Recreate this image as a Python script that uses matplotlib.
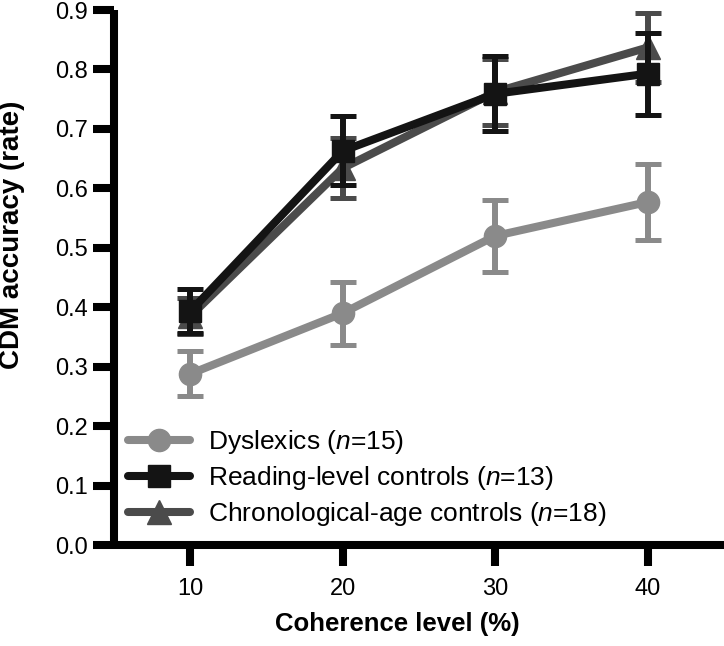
import matplotlib
matplotlib.use('Agg')
from matplotlib import pyplot as plt
from matplotlib.lines import Line2D

# data
coherence = [10, 20, 30, 40]

dyslexic_mean = [0.288, 0.390, 0.520, 0.577]
dyslexic_err = [0.038, 0.053, 0.060, 0.064]

reading_mean = [0.393, 0.663, 0.759, 0.793]
reading_err = [0.037, 0.058, 0.063, 0.069]

chrono_mean = [0.385, 0.634, 0.762, 0.837]
chrono_err = [0.030, 0.051, 0.055, 0.058]

labels = [r'Dyslexics ($\it{n}$=15)',
          r'Reading-level controls ($\it{n}$=13)',
          r'Chronological-age controls ($\it{n}$=18)']

y_ticks = [0.0, 0.1, 0.2, 0.3, 0.4, 0.5, 0.6, 0.7, 0.8, 0.9]


def main():
    """draw the chart"""
    plt.rcParams['font.family'] = ['Liberation Sans', 'DejaVu Sans']
    plt.rcParams['mathtext.fontset'] = 'custom'
    plt.rcParams['mathtext.rm'] = 'Liberation Sans'
    plt.rcParams['mathtext.it'] = 'Liberation Sans:italic'

    fig = plt.figure(figsize=(7.24, 6.46), dpi=100)
    ax = fig.add_axes([0.1575, 0.1563, 0.8425, 0.8282])

    # (means, errors, colour, marker, marker size, zorder)
    series = {
        labels[0]: (dyslexic_mean, dyslexic_err, '#8a8a8a', 'o', 16, 1),
        labels[2]: (chrono_mean, chrono_err, '#4b4b4b', '^', 17, 2),
        labels[1]: (reading_mean, reading_err, '#141414', 's', 15.5, 3),
    }
    for label, (mean, err, color, marker, ms, z) in series.items():
        ax.errorbar(coherence, mean, yerr=err, color=color, marker=marker,
                    markersize=ms, linewidth=5.8, elinewidth=4.3,
                    capsize=9.7, capthick=3.6, zorder=z, clip_on=False,
                    solid_capstyle='round')

    ax.set_xlim(5, 45)
    ax.set_ylim(0, 0.9)
    ax.set_xticks(coherence)
    ax.set_yticks(y_ticks)
    ax.set_yticklabels([f'{v:.1f}' for v in y_ticks])

    for side in ['top', 'right']:
        ax.spines[side].set_visible(False)
    for side in ['left', 'bottom']:
        ax.spines[side].set_linewidth(5.8)
        ax.spines[side].set_capstyle('butt')
    ax.tick_params(axis='both', which='major', length=15, width=5.8,
                   labelsize=17, colors='black')
    ax.tick_params(axis='y', pad=4)
    ax.tick_params(axis='x', pad=9)

    ax.set_xlabel('Coherence level (%)', fontsize=18.5, fontweight='bold')
    ax.set_ylabel('CDM accuracy (rate)', fontsize=20, fontweight='bold')
    ax.xaxis.set_label_coords(0.465, -0.148)
    ax.xaxis.label.set_va('center')
    ax.yaxis.set_label_coords(-0.167, 0.58)
    ax.yaxis.label.set_va('center')

    # legend shows line + marker only
    order = [labels[0], labels[1], labels[2]]
    handles = []
    for label in order:
        mean, err, color, marker, ms, z = series[label]
        handles.append(Line2D([], [], color=color, marker=marker,
                              markersize=ms, linewidth=5.8,
                              solid_capstyle='round'))
    ax.legend(handles, order, loc='lower left',
              bbox_to_anchor=(0.015, 0.022), frameon=False, fontsize=19,
              handlelength=2.35, handletextpad=0.65, labelspacing=0.3,
              borderaxespad=0.0, borderpad=0.2)

    plt.savefig('out.png', dpi=100)


if __name__ == '__main__':
    main()
